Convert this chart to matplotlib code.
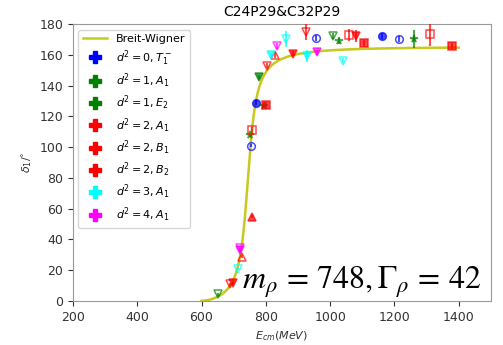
"""
Phase shift delta_1 vs E_cm with Breit-Wigner fit (C24P29 & C32P29).
"""

import matplotlib
matplotlib.use("Agg")
import matplotlib.pyplot as plt
from matplotlib.lines import Line2D
import numpy as np

# fit parameters (MeV)
M_RHO = 748.0
G_RHO = 42.0
M_PI = 300.0

# data: (E_cm, delta, error)
d0_T1_E = [754, 768, 956, 1161, 1213]
d0_T1_y = [101, 129, 171, 172.5, 170.3]
d0_T1_err = [1, 1.5, 2, 2, 2]

d1_A1_E = [650, 778, 1010]
d1_A1_y = [4.3, 145.7, 172.5]
d1_A1_err = [1, 1.5, 2]

d1_E2_E = [752, 793, 1028, 1260]
d1_E2_y = [107.6, 127, 168.8, 170.3]
d1_E2_err = [1, 1, 2, 6]

d2_A1_E = [727, 758, 829]
d2_A1_y = [28.8, 54.8, 160]
d2_A1_err = [1, 1, 2]

d2_B1_E = [689, 699, 803, 884, 924, 1079]
d2_B1_y = [10.8, 11.5, 153, 160.8, 175, 172.5]
d2_B1_err = [1, 1, 1.5, 1.5, 5, 4]

d2_B2_E = [758, 800, 1058, 1104, 1309, 1379]
d2_B2_y = [111, 127.5, 173, 168, 173.6, 166]
d2_B2_err = [2, 2, 4, 2, 8, 2]

d3_A1_E = [712, 815, 863, 927, 1039]
d3_A1_y = [21, 159.7, 170.3, 159.5, 156.3]
d3_A1_err = [1, 1.5, 5, 4, 1.5]

d4_A1_E = [720, 720, 834, 959]
d4_A1_y = [34.6, 33, 165.6, 161.7]
d4_A1_err = [1, 1, 2, 1.5]


def breit_wigner(E):
    p = np.sqrt(np.clip(E**2 / 4 - M_PI**2, 0, None))
    p_r = np.sqrt(M_RHO**2 / 4 - M_PI**2)
    gam = G_RHO * (p / p_r) ** 3 * (M_RHO / E) ** 2
    return np.degrees(np.arctan2(E * gam, M_RHO**2 - E**2))


series = [
    (d0_T1_E, d0_T1_y, d0_T1_err, "blue", "o", r"$d^2=0,T_1^-$"),
    (d1_A1_E, d1_A1_y, d1_A1_err, "green", "v", r"$d^2=1,A_1$"),
    (d1_E2_E, d1_E2_y, d1_E2_err, "green", "*", r"$d^2=1,E_2$"),
    (d2_A1_E, d2_A1_y, d2_A1_err, "red", "^", r"$d^2=2,A_1$"),
    (d2_B1_E, d2_B1_y, d2_B1_err, "red", "v", r"$d^2=2,B_1$"),
    (d2_B2_E, d2_B2_y, d2_B2_err, "red", "s", r"$d^2=2,B_2$"),
    (d3_A1_E, d3_A1_y, d3_A1_err, "cyan", "v", r"$d^2=3,A_1$"),
    (d4_A1_E, d4_A1_y, d4_A1_err, "magenta", "v", r"$d^2=4,A_1$"),
]

fig = plt.figure(figsize=(5.03, 3.45), dpi=100)
ax = fig.add_axes([0.145, 0.128, 0.831, 0.802])

E = np.linspace(600, 1400, 400)
bw_line, = ax.plot(E, breit_wigner(E), color="#c8c81e", lw=1.8, label="Breit-Wigner", zorder=1)

handles = [bw_line]
for xs, ys, errs, col, mk, lab in series:
    for i, (x, y, e) in enumerate(zip(xs, ys, errs)):
        face = "none" if i % 2 == 0 else col
        ax.errorbar(x, y, yerr=e, fmt=mk, color=col, mfc=face, mec=col, ms=5.5,
                    mew=1.1, elinewidth=1.5, alpha=0.7, zorder=3)
    handles.append(Line2D([], [], color=col, marker="P", ms=8.5, ls="none", label=lab))

ax.set_xlim(200, 1500)
ax.set_ylim(0, 180)
ax.set_xticks(np.arange(200, 1401, 200))
ax.set_yticks(np.arange(0, 181, 20))
ax.tick_params(labelsize=9, colors="#333333")
ax.set_xlabel(r"$E_{cm}(MeV)$", fontsize=8, color="#333333")
ax.set_ylabel(r"$\delta_1/^{\circ}$", fontsize=8, color="#333333")
ax.set_title("C24P29&C32P29", fontsize=10)
for s in ax.spines.values():
    s.set_color("#999999")

ax.legend(handles=handles, loc="upper left", fontsize=8, labelspacing=0.35,
          handlelength=2.2, borderaxespad=0.5)

ax.text(725, 8, r"$m_{\rho}\,=\,748,\Gamma_{\rho}\,=\,42$", fontsize=23,
        math_fontfamily="stix", ha="left", va="baseline")

fig.savefig("out.png", dpi=100)
